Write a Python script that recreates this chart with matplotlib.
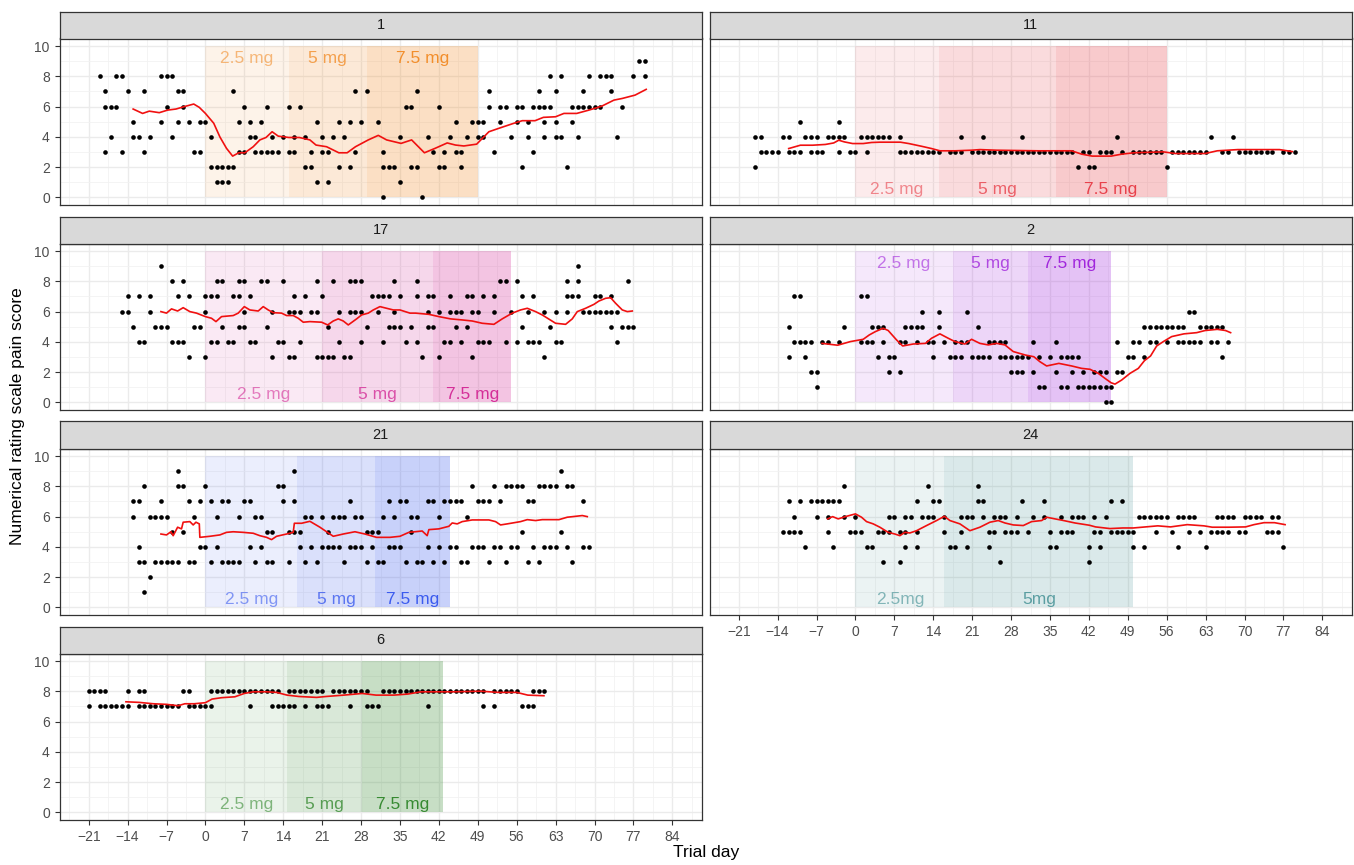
import matplotlib.pyplot as plt
from matplotlib.patches import Rectangle

plt.rcParams['font.family'] = ['Liberation Sans', 'DejaVu Sans']

# ---- data: pain score -> days with that score ----
p1_dots = {
    9: [78, 79],
    8: [-19, -16, -15, -8, -7, -6, 62, 64, 69, 71, 72, 73, 77, 79],
    7: [-18, -14, -11, -5, -4, 5, 27, 29, 38, 51, 60, 63, 68, 73],
    6: [-18, -17, -16, -7, -4, 7, 11, 15, 17, 36, 37, 42, 51, 53, 54, 56, 57, 59, 60, 61, 62,
        66, 67, 68, 69, 70, 71, 75],
    5: [-13, -8, -5, -3, -1, 0, 6, 8, 10, 20, 24, 26, 28, 31, 45, 48, 49, 50, 53, 56, 58, 61, 63, 66],
    4: [-17, -13, -12, -10, -6, 1, 8, 9, 12, 14, 16, 18, 21, 23, 25, 35, 40, 44, 47, 49, 50, 55,
        58, 61, 63, 64, 67, 74],
    3: [-18, -15, -11, -2, -1, 6, 7, 9, 10, 11, 12, 13, 15, 16, 19, 21, 22, 27, 32, 41, 43, 45,
        46, 52, 59],
    2: [1, 2, 3, 4, 5, 18, 19, 24, 26, 32, 33, 34, 37, 38, 42, 43, 46, 57, 65],
    1: [2, 3, 4, 20, 22, 35],
    0: [32, 39],
}
p1_line = [(-13, 5.84), (-11.3, 5.55), (-10.1, 5.7), (-8.3, 5.6), (-6.8, 5.77), (-5.3, 5.84),
           (-3.8, 6.0), (-2.1, 6.17), (-1.1, 5.95), (0, 5.55), (1.5, 4.9), (2.6, 4.0), (3.8, 3.24),
           (4.9, 2.73), (6, 2.95), (7.1, 2.95), (8.6, 3.35), (9.8, 3.8), (10.9, 3.96), (12, 4.34),
           (13.1, 4.05), (15, 3.96), (16.9, 3.96), (18.8, 3.8), (19.9, 3.46), (21.8, 3.35),
           (24, 2.95), (25.5, 2.95), (27, 3.35), (29.3, 3.8), (31.1, 4.1), (32.6, 3.8),
           (35.2, 3.57), (37.1, 3.8), (39.4, 2.95), (41.3, 3.24), (43.5, 3.6), (45, 3.46),
           (46.5, 3.4), (48.8, 3.52), (51, 4.34), (53.3, 4.63), (55.5, 4.9), (57, 5.07),
           (59.3, 5.07), (60.8, 5.29), (63, 5.33), (64.5, 5.55), (66.8, 5.55), (69, 5.77),
           (71.3, 6.03), (73.5, 6.43), (75, 6.54), (77.3, 6.76), (79.3, 7.14)]

p11_dots = {
    5: [-10, -3],
    4: [-18, -17, -13, -12, -9, -8, -7, -5, -4, -3, -2, 1, 2, 3, 4, 5, 6, 8, 19, 23, 30, 47, 64, 68],
    3: [-17, -16, -15, -14, -12, -11, -10, -8, -7, -6, -3, -1, 0, 2, 8, 9, 10, 11, 12, 13, 14, 15,
        17, 18, 19, 21, 22, 23, 24, 25, 26, 27, 28, 29, 30, 31, 32, 33, 34, 35, 36, 37, 38, 39,
        41, 42, 44, 45, 46, 48, 50, 51, 52, 53, 54, 55, 57, 58, 59, 60, 61, 62, 63, 66, 67,
        69, 70, 71, 72, 73, 74, 75, 77, 78, 79],
    2: [-18, 40, 42, 43, 56],
}
p11_line = [(-12, 3.23), (-9.9, 3.45), (-7.7, 3.45), (-5.4, 3.5), (-3.9, 3.6), (-3, 3.78),
            (-2, 3.67), (-0.5, 3.56), (1.4, 3.56), (2.9, 3.63), (4.4, 3.65), (8.1, 3.65),
            (9.6, 3.56), (11.9, 3.38), (13.7, 3.23), (15.2, 3.08), (17.9, 3.08), (20.9, 3.12),
            (22.4, 3.16), (25.4, 3.12), (32.9, 3.08), (38.9, 3.08), (40.7, 2.86), (42.6, 2.73),
            (46, 2.73), (47.9, 2.86), (50.1, 2.95), (55.4, 3.01), (57.6, 2.9), (62.9, 2.9),
            (65.1, 3.08), (68.8, 3.16), (76.3, 3.16), (78.6, 3.03)]

p17_dots = {
    9: [-8, 67],
    8: [-6, -4, 2, 3, 6, 7, 10, 11, 14, 20, 23, 26, 27, 28, 34, 38, 53, 54, 56, 65, 67, 76],
    7: [-14, -12, -10, -5, -3, 0, 1, 2, 5, 6, 8, 16, 18, 21, 30, 31, 32, 33, 35, 38, 40, 41, 44,
        47, 48, 50, 52, 57, 59, 65, 66, 67, 70, 71, 73],
    6: [-15, -14, -10, 0, 7, 12, 15, 16, 17, 19, 20, 24, 26, 27, 28, 31, 34, 40, 42, 44, 45, 46,
        48, 49, 52, 55, 58, 61, 63, 65, 68, 69, 70, 71, 72, 73, 74],
    5: [-13, -9, -8, -7, -2, -1, 3, 6, 7, 11, 22, 29, 33, 34, 35, 37, 40, 41, 45, 47, 57, 62, 73,
        75, 76, 77],
    4: [-12, -11, -6, -5, -4, 1, 2, 4, 5, 8, 9, 13, 14, 17, 24, 28, 32, 36, 38, 43, 44, 46, 49,
        50, 51, 54, 56, 58, 59, 60, 63, 64, 74],
    3: [-3, 0, 12, 15, 16, 20, 21, 22, 23, 25, 26, 39, 42, 48, 61],
}
p17_line = [(-8, 6.0), (-7, 5.9), (-6.1, 6.18), (-5, 6.04), (-4, 6.26), (-2.8, 6.0), (-1.6, 5.9),
            (0, 5.67), (1.1, 5.56), (1.9, 5.34), (2.9, 5.67), (5, 5.74), (5.9, 5.9), (7, 6.33),
            (8, 6.11), (9.5, 6.04), (10.4, 6.33), (11.3, 6.11), (12.2, 5.93), (13.7, 5.9),
            (14.6, 5.74), (15.8, 5.74), (16.7, 5.56), (17.6, 5.3), (18.8, 5.34), (20.9, 5.3),
            (22, 5.12), (23, 5.38), (23.9, 5.52), (24.8, 5.38), (25.7, 5.12), (27.2, 5.52),
            (28.1, 5.78), (29.3, 5.9), (30.2, 6.11), (31.4, 6.33), (32.6, 6.22), (33.8, 6.11),
            (35, 6.11), (36.8, 5.9), (37.8, 5.9), (40.2, 5.82), (42, 5.67), (44.1, 5.52),
            (46.2, 5.45), (48, 5.38), (49.8, 5.23), (51.9, 5.16), (53.4, 5.52), (55.2, 5.9),
            (56.7, 6.11), (57.9, 6.22), (59.4, 6.0), (60.6, 5.78), (63, 5.23), (64.8, 5.16),
            (66, 5.52), (66.9, 6.0), (68.4, 6.22), (69.9, 6.48), (70.8, 6.7), (72, 6.88),
            (72.9, 6.92), (73.8, 6.55), (75, 6.11), (75.9, 6.0), (76.8, 6.04)]

p2_dots = {
    7: [-11, -10, 1, 2],
    6: [12, 15, 20, 60, 61],
    5: [-12, -2, 3, 4, 5, 9, 10, 11, 12, 15, 22, 52, 53, 54, 55, 56, 57, 58, 59, 62, 63, 64, 65, 66],
    4: [-11, -10, -9, -8, -6, -5, -3, 1, 2, 3, 5, 8, 9, 11, 13, 14, 16, 18, 19, 20, 24, 25, 26,
        27, 32, 36, 47, 50, 51, 53, 54, 56, 58, 59, 60, 61, 62, 64, 65, 67],
    3: [-12, -9, 4, 6, 7, 14, 17, 18, 19, 21, 22, 23, 24, 26, 27, 28, 29, 30, 31, 33, 35, 37, 38,
        39, 40, 49, 50, 52, 66],
    2: [-8, -7, 6, 8, 28, 29, 30, 32, 36, 39, 41, 43, 44, 45, 47, 48],
    1: [-7, 33, 34, 37, 38, 40, 41, 42, 43, 44, 45, 46],
    0: [45, 46],
}
p2_line = [(-6, 3.9), (-3.2, 3.78), (-0.9, 4.02), (1.4, 4.17), (2.5, 4.46), (3.6, 4.68), (5, 4.9),
           (5.9, 4.75), (7.4, 4.13), (8.5, 3.73), (10.4, 3.86), (12.6, 3.9), (13.7, 4.24),
           (15.2, 4.53), (16.7, 4.24), (17.9, 4.02), (19.7, 3.86), (20.9, 4.17), (22.4, 3.9),
           (23.9, 3.8), (25.4, 3.9), (26.9, 3.8), (28.4, 3.36), (30.6, 3.13), (32.1, 3.02),
           (33.2, 2.69), (34.4, 2.41), (36.6, 2.58), (38.9, 2.41), (40.7, 2.25), (42.2, 2.19),
           (43.7, 1.92), (44.9, 1.59), (46, 1.3), (46.7, 1.21), (47.9, 1.48), (49.4, 1.92),
           (50.9, 2.25), (52, 2.76), (53.1, 3.07), (54.2, 3.73), (55.4, 4.02), (56.9, 4.35),
           (59.1, 4.53), (61.4, 4.61), (62.9, 4.75), (65.1, 4.83), (66.6, 4.75), (67.5, 4.61)]

p21_dots = {
    9: [-5, 16, 64],
    8: [-11, -5, -4, 0, 13, 14, 48, 52, 54, 55, 56, 57, 60, 61, 62, 63, 65, 66],
    7: [-13, -12, -8, -3, -1, 1, 3, 4, 7, 8, 14, 16, 26, 33, 35, 36, 40, 41, 43, 44, 45, 46, 49,
        50, 51, 53, 58, 59, 68],
    6: [-13, -10, -9, -8, -7, -2, 2, 6, 9, 10, 18, 19, 21, 23, 24, 25, 27, 28, 32, 34, 37, 38,
        42, 47],
    5: [-6, -4, 11, 12, 15, 16, 17, 22, 29, 30, 31, 37, 57, 64],
    4: [-12, -1, 0, 2, 8, 10, 17, 19, 21, 22, 23, 24, 26, 27, 28, 30, 33, 34, 35, 40, 42, 44, 45,
        48, 49, 50, 52, 53, 55, 56, 59, 61, 62, 63, 65, 68, 69],
    3: [-12, -11, -9, -8, -7, -6, -5, -3, -2, 1, 3, 4, 5, 6, 9, 11, 12, 15, 18, 20, 25, 29, 31,
        32, 36, 38, 39, 41, 43, 46, 47, 51, 54, 58, 60, 66],
    2: [-10],
    1: [-11],
}
p21_line = [(-8, 4.85), (-7, 4.79), (-6.2, 5.0), (-5.8, 4.74), (-5, 5.3), (-4.3, 5.19), (-4, 5.63),
            (-2.8, 5.67), (-2.2, 5.45), (-1.7, 5.63), (-1.1, 5.52), (-1, 4.63), (0.8, 4.7),
            (2.6, 4.79), (3.8, 4.96), (5, 5.0), (6.8, 4.96), (8.6, 4.9), (9.8, 4.74), (11, 4.63),
            (11.9, 4.48), (12.8, 4.7), (14.6, 4.85), (15.8, 4.96), (16, 5.56), (17.3, 5.56),
            (18.8, 5.69), (20.6, 5.3), (21.8, 5.0), (23, 4.7), (24.8, 4.85), (26.9, 5.0),
            (28.7, 4.85), (30.8, 4.63), (33.2, 4.63), (35, 4.7), (36.6, 4.96), (39, 5.05),
            (39.9, 4.74), (40.2, 5.14), (42, 5.19), (43.8, 5.36), (44.4, 5.58), (45.3, 5.52),
            (46.2, 5.67), (48, 5.78), (51, 5.78), (52.2, 5.67), (53.1, 5.45), (54.3, 5.52),
            (56.7, 5.67), (57.9, 5.8), (59.4, 5.74), (60.6, 5.8), (63.6, 5.8), (65.1, 5.96),
            (66.6, 6.02), (67.8, 6.07), (68.7, 6.0)]

p24_dots = {
    8: [-2, 13, 22],
    7: [-12, -10, -8, -7, -6, -5, -4, -3, 11, 14, 15, 22, 23, 30, 34, 46, 48],
    6: [-11, -7, -5, -2, 0, 6, 7, 9, 10, 12, 13, 14, 16, 19, 20, 21, 23, 25, 26, 27, 29, 32, 34,
        37, 39, 40, 41, 43, 45, 51, 52, 53, 54, 55, 56, 58, 59, 60, 61, 65, 66, 67, 68, 70, 71,
        72, 73, 75, 76],
    5: [-13, -12, -11, -10, -5, -1, 0, 1, 4, 5, 6, 8, 9, 11, 16, 19, 24, 25, 27, 28, 29, 31, 35,
        37, 38, 39, 43, 44, 46, 47, 48, 49, 50, 54, 57, 60, 62, 64, 65, 66, 67, 69, 70, 74, 75, 76],
    4: [-9, -4, 2, 3, 9, 11, 17, 18, 20, 24, 35, 36, 42, 44, 50, 52, 58, 63, 77],
    3: [5, 8, 26, 42],
}
p24_line = [(-5, 5.85), (-4.1, 6.0), (-3.1, 5.85), (-1.6, 6.02), (0, 6.18), (1.1, 5.96), (2, 5.67),
            (3.2, 5.52), (4.4, 5.3), (5.9, 4.96), (7.1, 4.85), (8, 4.74), (8.9, 4.96), (9.8, 4.92),
            (11, 5.07), (12.8, 5.41), (14.6, 5.74), (16, 6.02), (17, 5.74), (18.8, 5.52),
            (20.6, 5.07), (22.4, 5.3), (24.2, 5.63), (25.7, 5.74), (26.9, 5.58), (28.4, 5.45),
            (30.2, 5.41), (31.7, 5.67), (33.5, 5.74), (34.4, 5.96), (35.9, 5.85), (37.2, 5.76),
            (39.5, 5.58), (42.1, 5.43), (43.2, 5.32), (45.8, 5.21), (48.1, 5.25), (50, 5.25),
            (52.2, 5.32), (54.4, 5.39), (56.7, 5.32), (59.7, 5.47), (62.7, 5.39), (64.2, 5.3),
            (67.2, 5.3), (70.2, 5.32), (71.7, 5.47), (73.5, 5.6), (75.4, 5.6), (77.3, 5.47)]

p6_dots = {
    8: [-21, -20, -19, -18, -14, -12, -11, -4, -3, 1, 2, 3, 4, 5, 6, 7, 8, 9, 10, 11, 12, 13,
        15, 16, 17, 18, 19, 20, 21, 23, 24, 25, 26, 27, 28, 29, 32, 33, 34, 35, 36, 37, 38, 39,
        40, 41, 42, 43, 44, 45, 46, 47, 48, 49, 50, 52, 53, 54, 55, 56, 59, 60, 61],
    7: [-21, -19, -18, -17, -16, -15, -14, -12, -11, -10, -9, -8, -7, -6, -5, -3, -2, -1, 0, 1,
        8, 12, 13, 14, 15, 16, 18, 20, 21, 22, 26, 29, 30, 31, 40, 50, 52, 57, 58, 59],
}
p6_line = [(-14.3, 7.31), (-11.9, 7.27), (-9.4, 7.18), (-7, 7.14), (-4.9, 7.05), (-3.7, 7.18),
           (-2, 7.18), (0, 7.25), (1.2, 7.49), (2.9, 7.58), (5.3, 7.64), (7, 7.86), (8.6, 7.97),
           (11, 7.97), (12.8, 7.93), (14.7, 7.75), (16.8, 7.66), (20, 7.6), (21.7, 7.66),
           (24.9, 7.75), (28.2, 7.86), (30.7, 7.75), (33.9, 7.75), (36.4, 7.82), (38.8, 7.97),
           (44.6, 7.97), (49.5, 8.01), (52.7, 7.93), (56, 7.93), (58, 7.75), (60.9, 7.71)]

# dose periods (edges in trial days) and their labels
dose3 = ['2.5 mg', '5 mg', '7.5 mg']
p1_edges = [0, 15, 29, 49]
p11_edges = [0, 15, 36, 56]
p17_edges = [0, 21, 41, 55]
p2_edges = [0, 17.5, 31, 46]
p21_edges = [0, 16.5, 30.5, 44]
p24_edges = [0, 16, 50]
p24_doses = ['2.5mg', '5mg']
p6_edges = [0, 14.7, 28.2, 42.8]

x_ticks = [-21, -14, -7, 0, 7, 14, 21, 28, 35, 42, 49, 56, 63, 70, 77, 84]
y_ticks = [0, 2, 4, 6, 8, 10]

# facet table: title, dots, line, edges, labels, colour, label height, grid slot
facets = [
    ('1', p1_dots, p1_line, p1_edges, dose3, '#F28E2B', 'top', 0, 0),
    ('11', p11_dots, p11_line, p11_edges, dose3, '#E8414B', 'bottom', 0, 1),
    ('17', p17_dots, p17_line, p17_edges, dose3, '#D42E98', 'bottom', 1, 0),
    ('2', p2_dots, p2_line, p2_edges, dose3, '#A126DC', 'top', 1, 1),
    ('21', p21_dots, p21_line, p21_edges, dose3, '#3B5BEE', 'bottom', 2, 0),
    ('24', p24_dots, p24_line, p24_edges, p24_doses, '#3C8C90', 'bottom', 2, 1),
    ('6', p6_dots, p6_line, p6_edges, dose3, '#368A31', 'bottom', 3, 0),
]

W, H = 1354, 865
fig = plt.figure(figsize=(W / 100, H / 100), dpi=100)

col_x = [(59.5, 701.5), (709.5, 1351.5)]
row_top = [38.5, 243.5, 448.5, 653.5]
panel_h = 166.5
strip_h = 27

fill_alpha = [0.10, 0.19, 0.28]
text_alpha = [0.6, 0.8, 1.0]


def px_axes(x0, y0, x1, y1):
    return fig.add_axes([x0 / W, 1 - y1 / H, (x1 - x0) / W, (y1 - y0) / H])


for title, dots, line, edges, labels, col, lab_pos, r, c in facets:
    x0, x1 = col_x[c]
    y0 = row_top[r]
    ax = px_axes(x0, y0, x1, y0 + panel_h)
    ax.set_xlim(-26.25, 89.25)
    ax.set_ylim(-0.5, 10.5)

    ax.set_xticks(x_ticks)
    ax.set_xticks([t + 3.5 for t in [-28] + x_ticks], minor=True)
    ax.set_yticks(y_ticks)
    ax.set_yticks([1, 3, 5, 7, 9], minor=True)
    ax.grid(which='major', color='#EBEBEB', lw=1.0, zorder=0)
    ax.grid(which='minor', color='#F2F2F2', lw=0.6, zorder=0)
    ax.set_axisbelow(True)

    # shaded dose periods with labels
    for i, lab in enumerate(labels):
        a, b = edges[i], edges[i + 1]
        ax.add_patch(Rectangle((a, 0), b - a, 10, facecolor=col, alpha=fill_alpha[i],
                               edgecolor='none', zorder=1))
        ty = 9.2 if lab_pos == 'top' else 0.55
        ax.text((a + b) / 2, ty, lab, color=col, alpha=text_alpha[i], fontsize=12.5,
                ha='center', va='center', zorder=2)

    xs, ys = [], []
    for score, days in dots.items():
        xs += days
        ys += [score] * len(days)
    ax.scatter(xs, ys, s=11, color='black', linewidths=0, zorder=3)

    ax.plot([p[0] for p in line], [p[1] for p in line], color='#F01010', lw=1.2, zorder=4)

    for sp in ax.spines.values():
        sp.set_color('#333333')
        sp.set_linewidth(0.9)
    ax.tick_params(which='minor', length=0)
    ax.tick_params(which='major', length=3.5, color='#333333', labelsize=10,
                   labelcolor='#4D4D4D', width=0.8)

    bottom_axis = (r == 3 and c == 0) or (r == 2 and c == 1)
    if not bottom_axis:
        ax.tick_params(axis='x', bottom=False, labelbottom=False)
    if c == 1:
        ax.tick_params(axis='y', left=False, labelleft=False)

    # facet strip
    sax = px_axes(x0, y0 - strip_h, x1, y0)
    sax.set_facecolor('#D9D9D9')
    sax.set_xticks([])
    sax.set_yticks([])
    for sp in sax.spines.values():
        sp.set_color('#333333')
        sp.set_linewidth(0.9)
    sax.text(0.5, 0.5, title, transform=sax.transAxes, ha='center', va='center',
             fontsize=10.5, color='#1A1A1A')

fig.text(18 / W, 1 - 416 / H, 'Numerical rating scale pain score', rotation=90,
         ha='center', va='center', fontsize=12.5, color='black')
fig.text(706 / W, 1 - 853 / H, 'Trial day', ha='center', va='center', fontsize=12.5,
         color='black')

fig.savefig('out.png', dpi=100)
